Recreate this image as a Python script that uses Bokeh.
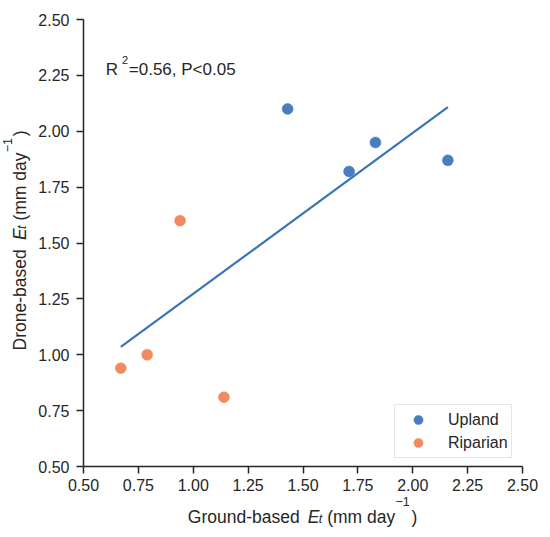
import math
from bokeh.plotting import figure
from bokeh.models import Range1d, FixedTicker, PrintfTickFormatter, Label
from bokeh.embed import file_html
from bokeh.resources import INLINE

# values
upland_x = [1.43, 1.71, 1.83, 2.16]
upland_y = [2.10, 1.82, 1.95, 1.87]
riparian_x = [0.67, 0.79, 0.94, 1.14]
riparian_y = [0.94, 1.00, 1.60, 0.81]
fit_x = [0.67, 2.16]
fit_y = [1.035, 2.108]
ticks = [0.5, 0.75, 1.0, 1.25, 1.5, 1.75, 2.0, 2.25, 2.5]
lo, hi = 0.5, 2.5

FONT = "Liberation Sans"
TXT = "#262626"

W, H = 542, 529
# where the axes box sits on the canvas (px)
AL, AR, AT, AB = 83, 522, 19, 466
kx = (AR - AL) / (hi - lo)
ky = (AB - AT) / (hi - lo)
SHIFT = 6  # labels render a bit below their anchor

# the frame fills the whole canvas so that the axis titles are not clipped;
# the axes themselves are pinned at 0.5
p = figure(width=W, height=H, title=None, output_backend="svg", toolbar_location=None,
           x_range=Range1d(lo - AL / kx, lo + (W - AL) / kx),
           y_range=Range1d(lo - (H - AB) / ky, hi + AT / ky),
           min_border=0)
p.outline_line_color = None
p.xgrid.visible = False
p.ygrid.visible = False
p.background_fill_color = "white"
p.border_fill_color = "white"

for ax in (p.xaxis[0], p.yaxis[0]):
    ax.fixed_location = lo
    ax.bounds = (lo, hi)
    ax.ticker = FixedTicker(ticks=ticks)
    ax.formatter = PrintfTickFormatter(format="%.2f")
    ax.axis_line_color = TXT
    ax.axis_line_width = 1.5
    ax.major_tick_line_color = TXT
    ax.major_tick_line_width = 1.5
    ax.major_tick_out = 7
    ax.major_tick_in = 0
    ax.minor_tick_out = 0
    ax.minor_tick_in = 0
    ax.major_label_text_font = FONT
    ax.major_label_text_font_size = "16px"
    ax.major_label_text_color = TXT
p.xaxis.major_label_standoff = 5
p.yaxis.major_label_standoff = 7

p.line(fit_x, fit_y, line_color="#3A75B5", line_width=2.2)
p.scatter(upland_x, upland_y, size=11, fill_color="#4A7CC0", line_color="#4A7CC0",
          line_alpha=0.5, legend_label="Upland")
p.scatter(riparian_x, riparian_y, size=11, fill_color="#F08B5E", line_color="#F08B5E",
          line_alpha=0.5, legend_label="Riparian")

lg = p.legend[0]
lg.location = (394, H - 458)
lg.margin = 0
lg.padding = 3
lg.spacing = 0
lg.glyph_width = 40
lg.glyph_height = 23
lg.label_height = 20
lg.label_standoff = 10
lg.label_text_font = FONT
lg.label_text_font_size = "16px"
lg.label_text_color = TXT
lg.border_line_color = "#cccccc"
lg.background_fill_alpha = 0.8


def put(text, cx, cy, size, style="normal", angle=0.0):
    if angle:
        cx -= SHIFT
    else:
        cy -= SHIFT
    p.add_layout(Label(x=lo + (cx - AL) / kx, y=lo + (AB - cy) / ky, text=text, angle=angle,
                       text_font=FONT, text_font_size=size, text_font_style=style,
                       text_color=TXT, text_align="left", text_baseline="alphabetic"))


# x axis title: Ground-based E_t (mm day^-1)
put("Ground-based", 187.3, 522.5, "17.5px")
put("E", 307.3, 522.5, "17.5px", "italic")
put("t", 318.3, 524.7, "12.5px", "italic")
put("(mm day", 326.7, 522.5, "17.5px")
put("\u22121", 395.0, 506.5, "12.5px")
put(")", 411.0, 522.5, "17.5px")

# y axis title, rotated
r = math.pi / 2
put("Drone-based", 25.0, 350.0, "17.5px", angle=r)
put("E", 25.0, 239.5, "17.5px", "italic", angle=r)
put("t", 27.2, 228.5, "12.5px", "italic", angle=r)
put("(mm day", 25.0, 220.1, "17.5px", angle=r)
put("\u22121", 12.5, 151.8, "12.5px", angle=r)
put(")", 25.0, 135.8, "17.5px", angle=r)

# statistics note
put("R", 105.3, 75.0, "17px")
put("2", 121.5, 65.7, "11px")
put("=0.56, P<0.05", 128.3, 75.0, "17px")

open("out.html", "w").write(file_html(p, INLINE))
